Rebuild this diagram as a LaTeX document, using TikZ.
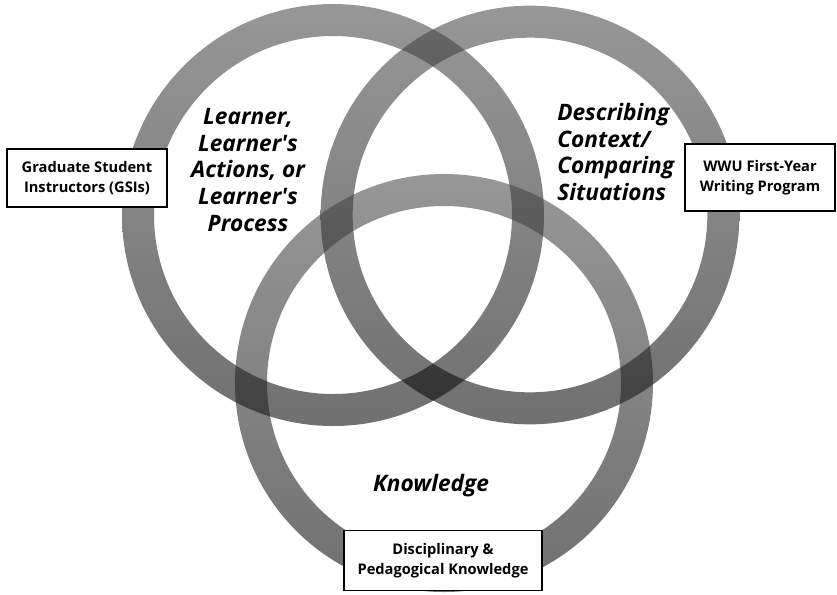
\documentclass[tikz,border=0pt]{standalone}
\usepackage{fontspec}
\setmainfont{Open Sans}
\begin{document}
\begin{tikzpicture}[x=0.75pt,y=-0.75pt,
  ring/.style={top color=black!73, bottom color=black, fill opacity=0.56, even odd rule, draw=none},
  labelbox/.style={draw=black, line width=1.4pt, fill=white, rectangle, inner sep=0pt, align=center,
    font=\fontsize{11}{14.8}\selectfont\bfseries},
  arealabel/.style={inner sep=0pt, font=\fontsize{17}{20}\selectfont\bfseries\itshape}]
\useasboundingbox (0,0) rectangle (837,594);
\coordinate (cl) at (333,215);
\coordinate (cr) at (530,215);
\coordinate (cb) at (444,383);
\shade[ring] (cl) circle (158.25pt) (cl) circle (134.25pt);
\shade[ring] (cr) circle (157pt) (cr) circle (133pt);
\shade[ring] (cb) circle (156.75pt) (cb) circle (132.75pt);
\node[labelbox, minimum width=120pt, minimum height=43.5pt] (gsi) at (87,178)
  {Graduate Student\\Instructors (GSIs)};
\node[labelbox, minimum width=112.5pt, minimum height=50.25pt] (wwu) at (760,177.5)
  {WWU First-Year\\Writing Program};
\node[labelbox, minimum width=148.5pt, minimum height=45pt] (disc) at (443,560.5)
  {Disciplinary \&\\Pedagogical Knowledge};
\node[arealabel, align=center] (learner) at (248,170)
  {Learner,\\Learner\textquotesingle s\\Actions, or\\Learner\textquotesingle s\\Process};
\node[arealabel, align=left, anchor=west] (context) at (557,152)
  {Describing\\Context/\\Comparing\\Situations};
\node[arealabel] (know) at (431,486) {Knowledge};
\end{tikzpicture}
\end{document}
